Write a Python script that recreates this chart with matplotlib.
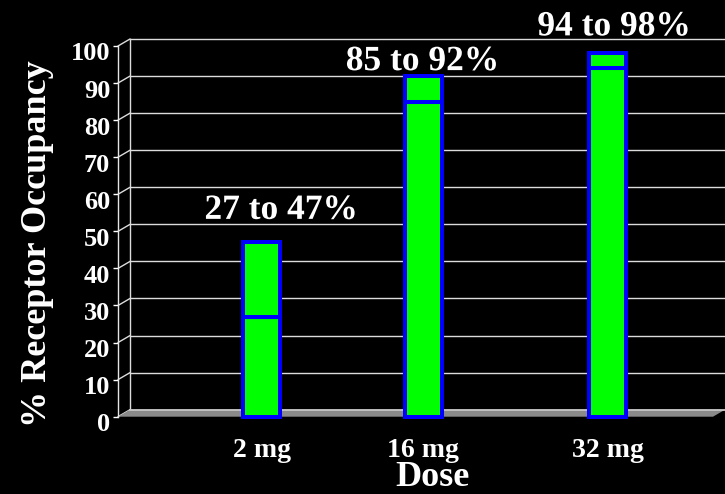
import numpy as np
import matplotlib
matplotlib.use("Agg")
import matplotlib.pyplot as plt
import matplotlib.patheffects as pe
from matplotlib import transforms
from matplotlib.patches import ConnectionPatch, Polygon

# receptor occupancy range per dose
doses = [2, 16, 32]
dose_labels = ["2 mg", "16 mg", "32 mg"]
occ_low = [27, 85, 94]
occ_high = [47, 92, 98]
y_ticks = [0, 10, 20, 30, 40, 50, 60, 70, 80, 90, 100]

# where each range label sits relative to the top of its bar (points)
label_offsets = [(14, 17), (-0.5, 4), (4.5, 13)]

plt.rcParams["font.family"] = ["Liberation Serif", "DejaVu Serif"]
plt.rcParams["font.weight"] = "bold"

GREEN = "#00ff00"
BLUE = "#0000ff"
GRID = "#dcdcdc"

fig = plt.figure(figsize=(7.25, 4.94), dpi=100, facecolor="black")
ax = fig.add_axes([118 / 725, 77.3 / 494, 595 / 725, 370.7 / 494])
ax.set_xlim(-10.45, 41.1)
ax.set_ylim(0, 100)
ax.patch.set_visible(False)

# back wall sits a little up and to the right of the front plane
wall = ax.transData + transforms.ScaledTranslation(0.12, 0.07, fig.dpi_scale_trans)
x0, x1 = ax.get_xlim()

for v in y_ticks[1:]:
    ax.plot([x0, x1], [v, v], color=GRID, lw=1, transform=wall,
            clip_on=False, zorder=1)
ax.plot([x0, x0], [0, 100], color=GRID, lw=1, transform=wall,
        clip_on=False, zorder=1)
for v in y_ticks:
    con = ConnectionPatch((x0, v), (x0, v), coordsA=ax.transData, coordsB=wall,
                          color=GRID, lw=1, zorder=1)
    con.set_clip_on(False)
    ax.add_artist(con)

# floor slab
front = ax.transData.transform([(x0, 0), (x1, 0)])
back = wall.transform([(x1, 0), (x0, 0)])
floor = Polygon(np.vstack([front, back]), closed=True,
                transform=transforms.IdentityTransform(),
                fc="#8a8a8a", ec="none", zorder=1.5, clip_on=False)
ax.add_patch(floor)
ax.plot([x0, x1], [0, 0], color="#c8c8c8", lw=1.3, transform=wall,
        clip_on=False, zorder=1.6)

# stacked bars: lower bound, then the spread up to the upper bound
bar_w = 3.2
ax.bar(doses, occ_low, width=bar_w, color=GREEN, edgecolor=BLUE, lw=2.9,
       zorder=3, clip_on=False)
ax.bar(doses, np.subtract(occ_high, occ_low), bottom=occ_low, width=bar_w,
       color=GREEN, edgecolor=BLUE, lw=2.9, zorder=3, clip_on=False)

for d, lo, hi, off in zip(doses, occ_low, occ_high, label_offsets):
    ax.annotate(f"{lo} to {hi}%", xy=(d, hi), xytext=off,
                textcoords="offset points", ha="center", va="baseline",
                fontsize=25.5, fontweight="bold", color="white", zorder=5,
                annotation_clip=False,
                path_effects=[pe.withStroke(linewidth=3, foreground="black")])

for side in ["top", "right", "bottom"]:
    ax.spines[side].set_visible(False)
ax.spines["left"].set_color("#e6e6e6")
ax.spines["left"].set_linewidth(1)

ax.set_yticks(y_ticks)
ax.tick_params(axis="y", colors="white", length=3.6, width=1, pad=2,
               labelsize=19)
shift = transforms.ScaledTranslation(0, -0.055, fig.dpi_scale_trans)
for lab in ax.get_yticklabels():
    lab.set_transform(lab.get_transform() + shift)
    lab.set_fontweight("bold")

ax.set_xticks(doses, dose_labels)
ax.tick_params(axis="x", colors="white", length=0, pad=15, labelsize=20)
for lab in ax.get_xticklabels():
    lab.set_fontweight("bold")

ax.set_xlabel("Dose", fontsize=26, fontweight="bold", color="white",
              va="baseline")
ax.xaxis.set_label_coords((432 - 118) / 595, -0.186)
ax.set_ylabel("% Receptor Occupancy", fontsize=26, fontweight="bold",
              color="white", va="center")
ax.yaxis.set_label_coords(-0.136, 0.466)

fig.savefig("out.png", dpi=100, facecolor="black")
